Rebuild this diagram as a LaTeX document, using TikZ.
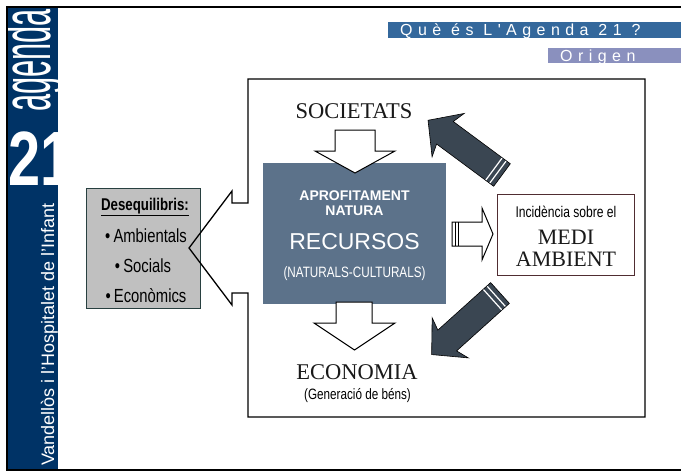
\documentclass[tikz,border=0pt]{standalone}
\usepackage{fontspec}
\setmainfont{Liberation Serif}
\setsansfont{Liberation Sans}
\newfontfamily\narrowsf[FakeStretch=0.78]{Liberation Sans}
\newfontfamily\spacedsf[LetterSpace=34]{Liberation Sans}
\newfontfamily\agendasf[FakeStretch=0.44]{Liberation Sans}
\newfontfamily\numsf[FakeStretch=0.75]{Liberation Sans}
\usepackage{tikz}
\usetikzlibrary{positioning}

\definecolor{sidebarblue}{RGB}{0,51,102}
\definecolor{barblue}{RGB}{52,104,156}
\definecolor{barlilac}{RGB}{138,144,190}
\definecolor{slate}{RGB}{92,114,138}
\definecolor{boxgray}{RGB}{192,192,192}
\definecolor{darkteal}{RGB}{40,64,64}
\definecolor{arrowdark}{RGB}{58,70,82}
\definecolor{mediline}{RGB}{80,45,50}

\begin{document}
\begin{tikzpicture}[x=1pt, y=-1pt,
    bartext/.style={text=white, font=\spacedsf\fontsize{16}{17}\selectfont, inner sep=0, anchor=base west},
    sidetext/.style={text=white, inner sep=0, anchor=base west},
    serifcap/.style={font=\fontsize{22.5}{26}\selectfont, text=black!90, inner sep=0, anchor=base},
    narrowtext/.style={font=\narrowsf\fontsize{15}{18}\selectfont, inner sep=0, anchor=base},
    listtext/.style={font=\narrowsf\fontsize{19}{21}\selectfont, inner sep=0, anchor=base},
    whitetext/.style={text=white, inner sep=0, anchor=base},
    hollow/.style={draw=black, line width=1pt, fill=white, line join=miter},
    fatarrow/.style={draw=black, line width=0.6pt, fill=arrowdark, line join=miter},
    stripe/.style={draw=white, line width=1.2pt}]

    \useasboundingbox (0,0) rectangle (681,474);

    % left band
    \fill[sidebarblue] (7,7) rectangle (58,470);
    \begin{scope}
        \clip (7,7) rectangle (58,470);
        \node[sidetext, rotate=90, font=\agendasf\fontsize{70}{70}\selectfont] (agenda) at (50,112) {agenda};
    \end{scope}
    \node[sidetext, font=\numsf\bfseries\fontsize{77}{77}\selectfont] (num) at (8,185) {21};
    \node[sidetext, rotate=90, font=\sffamily\fontsize{18}{20}\selectfont] (town) at (54,466) {Vandellòs i l'Hospitalet de l'Infant};
    \draw[line width=1.5pt] (681,7) -- (7,7) -- (7,470) -- (681,470);

    % title bars
    \fill[barblue] (388,22) rectangle (681,38);
    \node[bartext] (que) at (400,35) {Què és L'Agenda 21 ?};
    \fill[barlilac] (548,48) rectangle (681,63);
    \node[bartext] (origen) at (560,61) {Origen};

    % boxes
    \node[draw=darkteal, line width=0.8pt, fill=boxgray, minimum width=114, minimum height=120] (deseq) at (143,248) {};
    \node[fill=slate, minimum width=183, minimum height=141] (rec) at (354.5,233.5) {};
    \node[draw=mediline, line width=0.8pt, fill=white, minimum width=137, minimum height=81] (medi) at (565.5,234.5) {};

    % frame with pointer
    \coordinate (tl) at (248,79);
    \coordinate (tr) at (645,79);
    \coordinate (br) at (645,417);
    \coordinate (bl) at (248,417);
    \coordinate (tip) at (189,248);
    \draw[line width=1.3pt, line join=miter] (tl) -- (248,203) -- (232,203) -- (232,191) -- (tip)
        -- (232,305) -- (232,293) -- (248,293) -- (bl) -- (br) -- (tr) -- cycle;

    % hollow arrows
    \draw[hollow] (335,130) -- (375,130) -- (375,151) -- (395,151) -- (355,173) -- (315,151) -- (335,151) -- cycle;
    \draw[hollow] (336,302) -- (372,302) -- (372,323) -- (395,323) -- (354.5,350) -- (314,323) -- (336,323) -- cycle;
    \draw[hollow] (452,222) -- (482,222) -- (482,208) -- (493,234) -- (482,260) -- (482,246) -- (452,246) -- cycle;
    \draw[line width=1pt] (455,222) -- (455,246);
    \draw[line width=1pt] (458,222) -- (458,246);

    % dark arrows
    \begin{scope}[shift={(502,175)}, rotate=143.5]
        \draw[fatarrow] (0,-14) -- (71,-14) -- (67,-27) -- (92,0) -- (67,27) -- (71,14) -- (0,14) -- cycle;
        \draw[stripe] (5,-13.5) -- (5,13.5);
        \draw[stripe] (10,-13.5) -- (10,13.5);
    \end{scope}
    \begin{scope}[shift={(500,293)}, rotate=-138]
        \draw[fatarrow] (0,-14) -- (71,-14) -- (67,-27) -- (92,0) -- (67,27) -- (71,14) -- (0,14) -- cycle;
        \draw[stripe] (5,-13.5) -- (5,13.5);
        \draw[stripe] (10,-13.5) -- (10,13.5);
    \end{scope}

    % texts
    \node[listtext, font=\narrowsf\bfseries\fontsize{17}{20}\selectfont] (title) at (145,210) {\underline{Desequilibris:}};
    \node[listtext] (amb) at (146,242) {\textbullet\,Ambientals};
    \node[listtext] (soc) at (143,272) {\textbullet\,Socials};
    \node[listtext] (eco) at (146,302) {\textbullet\,Econòmics};

    \node[whitetext, font=\sffamily\bfseries\fontsize{14}{16}\selectfont] (aprof) at (354.5,200) {APROFITAMENT};
    \node[whitetext, font=\sffamily\bfseries\fontsize{14}{16}\selectfont] (natura) at (354.5,215) {NATURA};
    \node[whitetext, font=\sffamily\fontsize{23}{26}\selectfont] (recursos) at (354.5,249) {RECURSOS};
    \node[whitetext, font=\narrowsf\fontsize{15}{18}\selectfont] (natcul) at (354.5,277) {(NATURALS-CULTURALS)};

    \node[serifcap] (societats) at (354,118) {SOCIETATS};
    \node[serifcap] (economia) at (357,379) {ECONOMIA};
    \node[narrowtext] (bens) at (357.5,399) {(Generació de béns)};

    \node[narrowtext, font=\narrowsf\fontsize{15.5}{18}\selectfont] (incid) at (566,217) {Incidència sobre el};
    \node[serifcap, font=\fontsize{22}{26}\selectfont] (medi1) at (566,244) {MEDI};
    \node[serifcap, font=\fontsize{22}{26}\selectfont] (medi2) at (566,266) {AMBIENT};
\end{tikzpicture}
\end{document}
